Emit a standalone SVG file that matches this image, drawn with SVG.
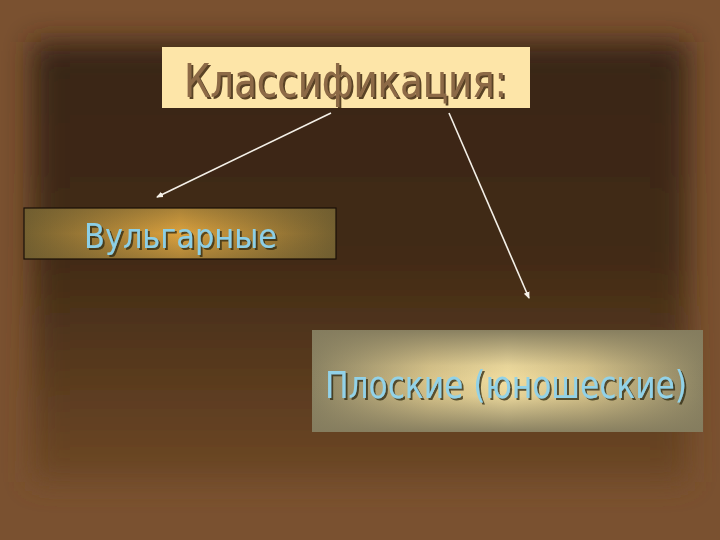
<svg xmlns="http://www.w3.org/2000/svg" width="720" height="540" viewBox="0 0 720 540">
<defs>
<style>
.t{font-family:"DejaVu Sans Condensed","Liberation Sans",sans-serif}
.conn{stroke:#f4f0e8;stroke-width:1.6;fill:none;marker-end:url(#ah)}
</style>
<linearGradient id="inner" x1="0" y1="0" x2="0" y2="1">
<stop offset="0" stop-color="#382412"/>
<stop offset="0.5" stop-color="#422b16"/>
<stop offset="1" stop-color="#6e4826"/>
</linearGradient>
<filter id="blur" x="-10%" y="-10%" width="120%" height="120%"><feGaussianBlur stdDeviation="14"/></filter>
<filter id="sh1" x="-5%" y="-20%" width="110%" height="140%"><feDropShadow dx="2" dy="2" stdDeviation="0.6" flood-color="#3e2810" flood-opacity="0.85"/></filter>
<filter id="sh2" x="-5%" y="-20%" width="110%" height="140%"><feDropShadow dx="2" dy="2" stdDeviation="0.6" flood-color="#2e2a18" flood-opacity="0.75"/></filter>
<linearGradient id="g1" x1="0" y1="0" x2="1" y2="0">
<stop offset="0" stop-color="#746030"/>
<stop offset="0.5" stop-color="#dca23e"/>
<stop offset="1" stop-color="#746030"/>
</linearGradient>
<linearGradient id="g1v" x1="0" y1="0" x2="0" y2="1">
<stop offset="0" stop-color="#6a5a30" stop-opacity="0.45"/>
<stop offset="0.5" stop-color="#6a5a30" stop-opacity="0"/>
<stop offset="1" stop-color="#6a5a30" stop-opacity="0.45"/>
</linearGradient>
<linearGradient id="g2h" x1="0" y1="0" x2="1" y2="0">
<stop offset="0" stop-color="#8a8262"/>
<stop offset="0.3" stop-color="#d8c48a"/>
<stop offset="0.5" stop-color="#f2dea0"/>
<stop offset="0.7" stop-color="#d8c48a"/>
<stop offset="1" stop-color="#8a8262"/>
</linearGradient>
<linearGradient id="g2v" x1="0" y1="0" x2="0" y2="1">
<stop offset="0" stop-color="#847c5e" stop-opacity="0.95"/>
<stop offset="0.35" stop-color="#847c5e" stop-opacity="0.1"/>
<stop offset="0.5" stop-color="#847c5e" stop-opacity="0"/>
<stop offset="0.65" stop-color="#847c5e" stop-opacity="0.1"/>
<stop offset="1" stop-color="#847c5e" stop-opacity="0.95"/>
</linearGradient>
<marker id="ah" markerWidth="8" markerHeight="8" refX="6" refY="4" orient="auto" markerUnits="userSpaceOnUse">
<path d="M0,1 L7,4 L0,7 z" fill="#f4f0e8"/>
</marker>
</defs>
<rect width="720" height="540" fill="#7a5130"/>
<rect x="32" y="42" width="656" height="440" fill="url(#inner)" filter="url(#blur)"/>
<g id="connectors">
<line class="conn" x1="331" y1="113" x2="157" y2="197"/>
<line class="conn" x1="449" y1="113" x2="529" y2="298"/>
</g>
<g id="n-title">
<rect x="162" y="47" width="368" height="61" fill="#fde5a8"/>
<text class="t" x="184" y="97" font-size="46" fill="#8d6a46" filter="url(#sh1)" textLength="323" lengthAdjust="spacingAndGlyphs">Классификация:</text>
</g>
<g id="n-vulgar">
<rect x="24" y="208" width="312" height="51" fill="url(#g1)"/>
<rect x="24" y="208" width="312" height="51" fill="url(#g1v)" stroke="#1a1008" stroke-width="1.2"/>
<text class="t" x="84" y="248" font-size="33" fill="#8ccfe6" filter="url(#sh2)" textLength="193" lengthAdjust="spacingAndGlyphs">Вульгарные</text>
</g>
<g id="n-flat">
<rect x="312" y="330" width="391" height="102" fill="url(#g2h)"/>
<rect x="312" y="330" width="391" height="102" fill="url(#g2v)"/>
<text class="t" x="325" y="398" font-size="37" fill="#92d2e8" filter="url(#sh2)" textLength="362" lengthAdjust="spacingAndGlyphs">Плоские (юношеские)</text>
</g>
</svg>
